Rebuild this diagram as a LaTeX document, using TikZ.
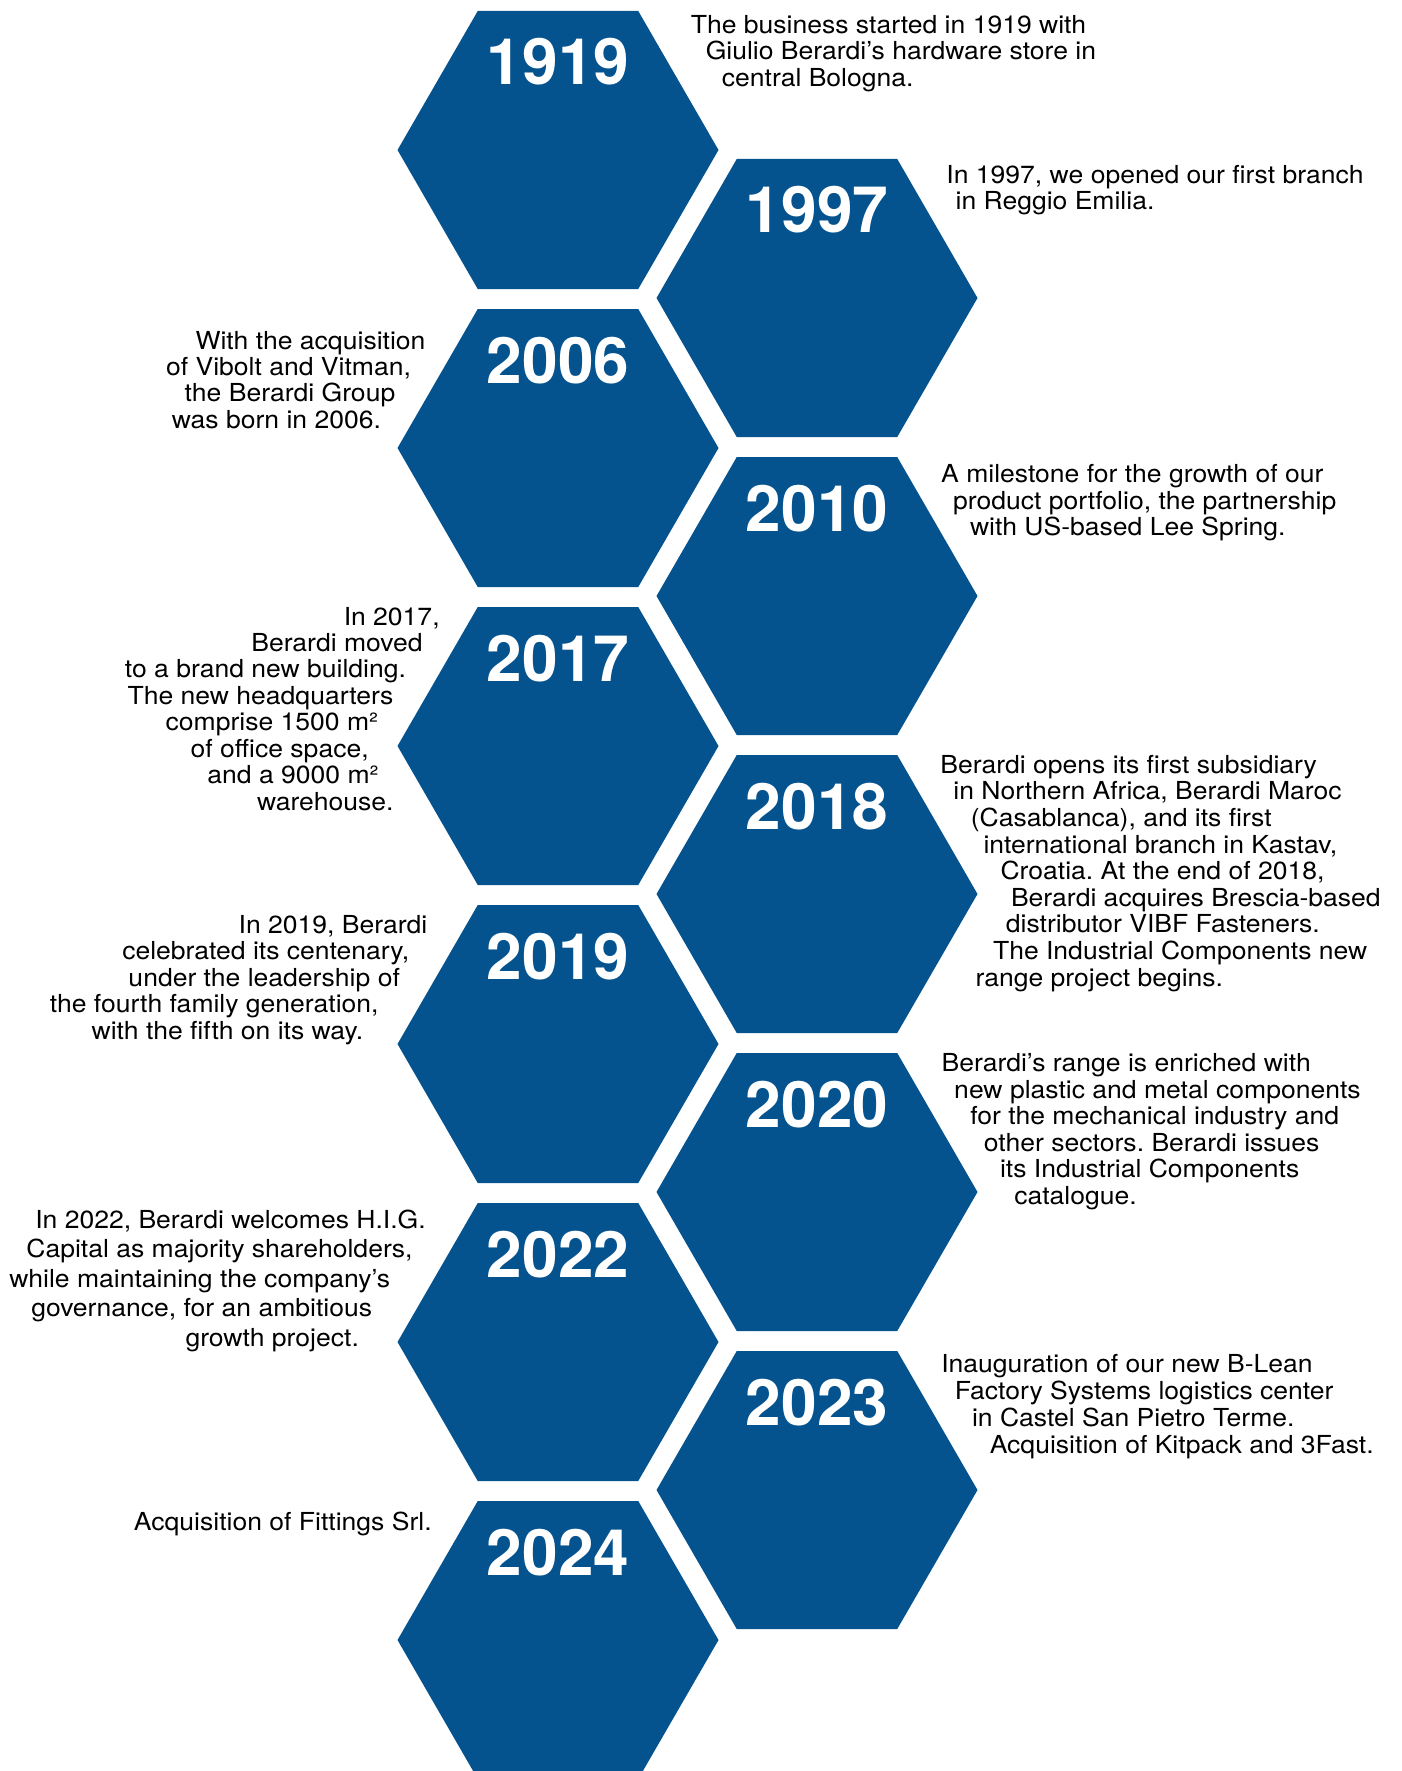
\documentclass[tikz,border=0pt]{standalone}
\usepackage{fontspec}
\setmainfont{TeX Gyre Heros}
\newfontfamily\bodyfont[FakeStretch=1.07]{TeX Gyre Heros}
\definecolor{hexblue}{RGB}{4,83,143}
\newcommand\tline[4]{\node[bodytext] (#1) at (#2,#3) {#4};}
\frenchspacing
\begin{document}
\frenchspacing
\begin{tikzpicture}[x=1pt,y=-1pt,
  hexfill/.style={fill=hexblue},
  bodytext/.style={anchor=base,inner sep=0pt,outer sep=0pt,text=black,
    font=\bodyfont\fontsize{24.8}{26}\selectfont\frenchspacing},
  yeartext/.style={anchor=base,inner sep=0pt,outer sep=0pt,text=white,
    font=\fontsize{64}{64}\selectfont\bfseries}]
\useasboundingbox (0,0) rectangle (1401,1771);
% hexagons
\begin{scope}
\clip (0,0) rectangle (1401,1771);
\foreach \cx/\cy in {558/150,558/448,558/746,558/1044,558/1342,558/1640,
                     817/298,817/596,817/894,817/1192,817/1490}
  \fill[hexfill] (\cx-160.5,\cy) -- (\cx-80.25,\cy-139) -- (\cx+80.25,\cy-139)
     -- (\cx+160.5,\cy) -- (\cx+80.25,\cy+139) -- (\cx-80.25,\cy+139) -- cycle;
\end{scope}
% years
\node[yeartext] (y1919) at (558,85) {1919};
\node[yeartext] (y1997) at (817,233) {1997};
\node[yeartext] (y2006) at (558,383) {2006};
\node[yeartext] (y2010) at (817,531) {2010};
\node[yeartext] (y2017) at (558,681) {2017};
\node[yeartext] (y2018) at (817,829) {2018};
\node[yeartext] (y2019) at (558,979) {2019};
\node[yeartext] (y2020) at (817,1127) {2020};
\node[yeartext] (y2022) at (558,1277) {2022};
\node[yeartext] (y2023) at (817,1425) {2023};
\node[yeartext] (y2024) at (558,1575) {2024};
% 1919
\tline{a1}{888.5}{33.3}{The business started in 1919 with}
\tline{a2}{900.9}{59.8}{Giulio Berardi’s hardware store in}
\tline{a3}{817.7}{86.3}{central Bologna.}
% 1997
\tline{b1}{1155}{183.3}{In 1997, we opened our first branch}
\tline{b2}{1055}{209.6}{in Reggio Emilia.}
% 2006
\tline{c1}{310.5}{349}{With the acquisition}
\tline{c2}{288.5}{375.4}{of Vibolt and Vitman,}
\tline{c3}{290}{401.8}{the Berardi Group}
\tline{c4}{276.5}{428.2}{was born in 2006.}
% 2010
\tline{d1}{1132.3}{482.3}{A milestone for the growth of our}
\tline{d2}{1144.7}{509}{product portfolio, the partnership}
\tline{d3}{1127.8}{535.7}{with US-based Lee Spring.}
% 2017
\tline{e1}{391.7}{625}{In 2017,}
\tline{e2}{337}{651.4}{Berardi moved}
\tline{e3}{265.5}{677.9}{to a brand new building.}
\tline{e4}{260.5}{704.3}{The new headquarters}
\tline{e5}{271.8}{730.7}{comprise 1500 m²}
\tline{e6}{279.7}{757.1}{of office space,}
\tline{e7}{293}{783.6}{and a 9000 m²}
\tline{e8}{325.3}{810}{warehouse.}
% 2018
\tline{f1}{1128.7}{773.3}{Berardi opens its first subsidiary}
\tline{f2}{1147.5}{799.9}{in Northern Africa, Berardi Maroc}
\tline{f3}{1121.2}{826.5}{(Casablanca), and its first}
\tline{f4}{1160.3}{853.1}{international branch in Kastav,}
\tline{f5}{1162.5}{879.7}{Croatia. At the end of 2018,}
\tline{f6}{1195.8}{906.3}{Berardi acquires Brescia-based}
\tline{f7}{1162.8}{932.9}{distributor VIBF Fasteners.}
\tline{f8}{1180.2}{959.5}{The Industrial Components new}
\tline{f9}{1099.3}{986}{range project begins.}
% 2019
\tline{g1}{333}{933.3}{In 2019, Berardi}
\tline{g2}{265.8}{959.8}{celebrated its centenary,}
\tline{g3}{264.2}{986.3}{under the leadership of}
\tline{g4}{214.2}{1012.8}{the fourth family generation,}
\tline{g5}{227.5}{1039.3}{with the fifth on its way.}
% 2020
\tline{h1}{1126.2}{1071.7}{Berardi’s range is enriched with}
\tline{h2}{1157.5}{1098.2}{new plastic and metal components}
\tline{h3}{1154.7}{1124.7}{for the mechanical industry and}
\tline{h4}{1151.7}{1151.1}{other sectors. Berardi issues}
\tline{h5}{1149.7}{1177.6}{its Industrial Components}
\tline{h6}{1075.5}{1204}{catalogue.}
% 2022
\tline{i1}{230.5}{1228}{In 2022, Berardi welcomes H.I.G.}
\tline{i2}{219.5}{1257.5}{Capital as majority shareholders,}
\tline{i3}{199.7}{1287}{while maintaining the company’s}
\tline{i4}{201.7}{1316.5}{governance, for an ambitious}
\tline{i5}{272.2}{1346}{growth project.}
% 2023
\tline{j1}{1127}{1372.7}{Inauguration of our new B-Lean}
\tline{j2}{1144.2}{1399.6}{Factory Systems logistics center}
\tline{j3}{1133.3}{1426.5}{in Castel San Pietro Terme.}
\tline{j4}{1181.7}{1453.3}{Acquisition of Kitpack and 3Fast.}
% 2024
\tline{k1}{282.8}{1530}{Acquisition of Fittings Srl.}
\end{tikzpicture}
\end{document}
